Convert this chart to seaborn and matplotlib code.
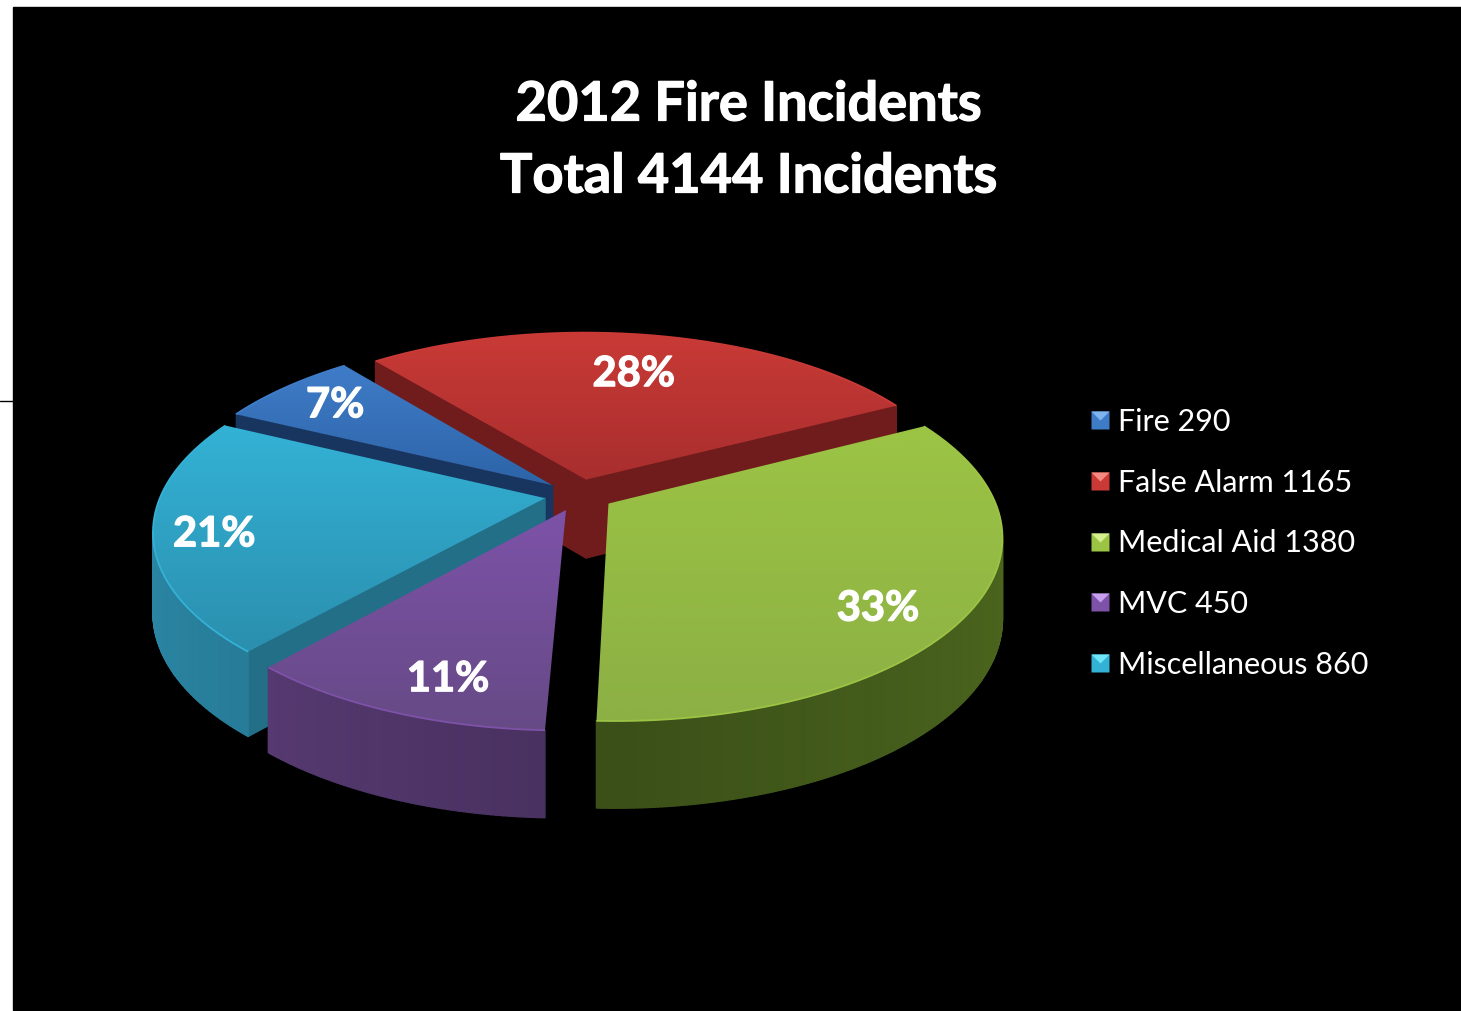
import numpy as np
import seaborn as sns
import matplotlib.pyplot as plt
import matplotlib.patheffects as pe
from matplotlib.collections import PolyCollection
from matplotlib.lines import Line2D
from matplotlib.legend_handler import HandlerTuple
from matplotlib.patches import Polygon, Rectangle

# Data
categories = ["Fire", "False Alarm", "Medical Aid", "MVC", "Miscellaneous"]
incidents = [290, 1165, 1380, 450, 860]
title_lines = ["2012 Fire Incidents", "Total 4144 Incidents"]

# Colours (light end of top, dark end of top, cut face)
top_light = ["#3f7cc8", "#c93a36", "#9cc444", "#7d52a8", "#33b2d6"]
top_dark = ["#2d64a8", "#a82e2e", "#8cb044", "#664a86", "#2b8fae"]
wall_cols = ["#183560", "#701c1c", "#3e5419", "#4c3364", "#236f88"]
marker_hi = ["#7fb4ee", "#f58a82", "#d4ee90", "#c6a0ee", "#70e4f8"]

sns.set_theme(style="dark", rc={"axes.grid": False})
plt.rcParams["font.family"] = ["Lato", "DejaVu Sans"]
top_light = sns.color_palette(top_light)
top_dark = sns.color_palette(top_dark)
wall_cols = sns.color_palette(wall_cols)

# Pie geometry, in figure pixels
cx, cy = 579, 495
R, A, k = 384, 177, 0.171
depth = 79
explode = 0.09
start_angle = 154
draw_order = [1, 0, 4, 3, 2]
label_frac = [0.80, 0.70, 0.82, 0.84, 0.85]
label_turn = [0, 0, -8, 4, 2]
bold = [pe.withStroke(linewidth=0.9, foreground="white")]


def project(x, y, z=0):
    s = 1 / (1 + k * y)
    return cx + R * x * s, cy - A * y * s + z * np.sqrt(s)


fig = plt.figure(figsize=(14.61, 10.11), dpi=100, facecolor="white")
ax = fig.add_axes([0, 0, 1, 1])
ax.set_facecolor("white")
ax.add_patch(Rectangle((13, 7), 1448, 1003, color="black", zorder=0))
ax.plot([0, 13], [401, 401], color="black", lw=1, zorder=1)

shares = np.array(incidents) / sum(incidents)
edges = start_angle - np.concatenate([[0], np.cumsum(shares) * 360])
z_now = 2

for i in draw_order:
    a0, a1 = edges[i], edges[i + 1]
    mid = np.radians((a0 + a1) / 2)
    ox, oy = explode * np.cos(mid), explode * np.sin(mid)
    ang = np.radians(np.linspace(a0, a1, max(int(a0 - a1) * 2, 8)))
    px = np.concatenate([[ox], ox + np.cos(ang), [ox]])
    py = np.concatenate([[oy], oy + np.sin(ang), [oy]])
    sx, sy = project(px, py)
    bx, by = project(px, py, depth)

    # side faces, only those looking at the viewer
    quads, cols = [], []
    for j in range(len(px) - 1):
        q = np.array([[sx[j], sy[j]], [sx[j + 1], sy[j + 1]],
                      [bx[j + 1], by[j + 1]], [bx[j], by[j]]])
        area = np.sum(q[:, 0] * np.roll(q[:, 1], -1) - np.roll(q[:, 0], -1) * q[:, 1])
        if area >= 0:
            continue
        if j == 0 or j == len(px) - 2:
            # nearly edge-on cut faces do not show in the original
            if abs(q[0, 0] - q[1, 0]) < 30:
                continue
            cols.append(wall_cols[i])
        else:
            f = 0.95 + 0.25 * abs(np.cos(ang[j]))
            cols.append(tuple(min(c * f, 1) for c in wall_cols[i]))
        quads.append(q)
    ax.add_collection(PolyCollection(quads, facecolors=cols, edgecolors=cols,
                                     linewidths=1.0, zorder=z_now))

    # top face with a vertical gradient
    poly = Polygon(np.column_stack([sx, sy]), closed=True, fc="none", ec="none",
                   transform=ax.transData, zorder=z_now + 1)
    ax.add_patch(poly)
    grad = np.linspace(0, 1, 256)[:, None, None]
    rgb = (1 - grad) * np.array(top_light[i]) + grad * np.array(top_dark[i])
    im = ax.imshow(rgb, extent=[sx.min(), sx.max(), sy.max(), sy.min()],
                   aspect="auto", zorder=z_now + 1, interpolation="bilinear")
    im.set_clip_path(poly)

    # thin light rim on the outer edge
    ax.plot(sx[1:-1], sy[1:-1], color=top_light[i], lw=1.3, zorder=z_now + 2,
            solid_capstyle="butt")
    z_now += 3

for i in range(len(categories)):
    mid = np.radians((edges[i] + edges[i + 1]) / 2)
    turned = mid + np.radians(label_turn[i])
    lx, ly = project(explode * np.cos(mid) + label_frac[i] * np.cos(turned),
                     explode * np.sin(mid) + label_frac[i] * np.sin(turned))
    ax.text(lx, ly, f"{shares[i] * 100:.0f}%", color="white", fontsize=30,
            fontweight="bold", ha="center", va="center", zorder=50, path_effects=bold)

ax.text(748, 105, title_lines[0], color="white", fontsize=39, fontweight="bold",
        ha="center", va="center", zorder=50, path_effects=bold)
ax.text(748, 177, title_lines[1], color="white", fontsize=39, fontweight="bold",
        ha="center", va="center", zorder=50, path_effects=bold)

# Legend with small bevelled squares
handles = []
for i in range(len(categories)):
    base = Line2D([], [], ls="", marker="s", ms=13, mec="none", mfc=top_light[i])
    tip = Line2D([], [], ls="", marker=[(-1, 1), (1, 1), (0, 0)], ms=13, mec="none",
                 mfc=marker_hi[i])
    handles.append((base, tip))
labels = [f"{c} {n}" for c, n in zip(categories, incidents)]
ax.legend(handles, labels, handler_map={tuple: HandlerTuple(ndivide=1, pad=0)},
          loc="upper left", bbox_to_anchor=(1086 / 1461, 1 - 408 / 1011),
          frameon=False, labelcolor="white", fontsize=22, labelspacing=1.07,
          handlelength=0.9, handletextpad=0.15, borderaxespad=0, borderpad=0)

ax.set_xlim(0, 1461)
ax.set_ylim(1011, 0)
ax.axis("off")

fig.savefig("out.png", dpi=100, facecolor="white")
